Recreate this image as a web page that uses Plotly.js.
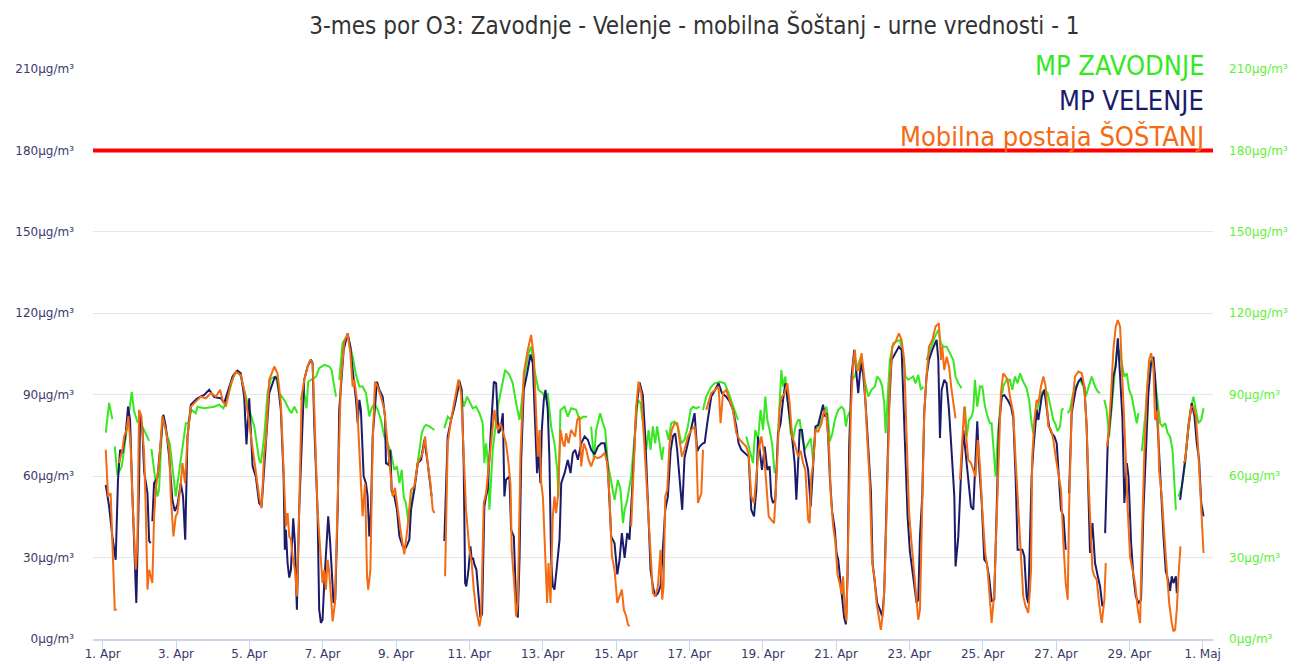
<!DOCTYPE html>
<html>
<head>
<meta charset="utf-8">
<script src="https://cdn.plot.ly/plotly-3.0.1.min.js"></script>
<style>html,body{margin:0;padding:0;background:#fff;}#chart{width:1298px;height:664px;}</style>
</head>
<body>
<div id="chart"></div>
<script>
// ---- DATA (hours since 1. Apr 00:00, value in µg/m³; null = no data) ----
const chartTitle = "3-mes por O3: Zavodnje - Velenje - mobilna Šoštanj - urne vrednosti - 1";
const seriesNames = ["MP ZAVODNJE", "MP VELENJE", "Mobilna postaja ŠOŠTANJ"];
const limitValue = 180;
const yTickValues = [0, 30, 60, 90, 120, 150, 180, 210];
const yTickUnit = "µg/m³";
const xTickHours = [0, 48, 96, 144, 192, 240, 288, 336, 384, 432, 480, 528, 576, 624, 672, 720];
const xTickLabels = ["1. Apr","3. Apr","5. Apr","7. Apr","9. Apr","11. Apr","13. Apr","15. Apr","17. Apr","19. Apr","21. Apr","23. Apr","25. Apr","27. Apr","29. Apr","1. Maj"];

const zavodnje = [[2,76],[4.2,87],[6.3,81],[7,null],[7.9,71],[9.6,60.5],[12.5,63.6],[19,91],[20.5,84],[22.7,80],[25,79.5],[30.4,73],[31.1,null],[31.9,70],[35.8,52.5],[36.9,55],[39.1,82],[42.4,74.6],[43.9,72],[47.8,52.5],[54.4,79.5],[55.9,79.5],[58.1,84.4],[60.9,83.2],[62,85.6],[66.4,85],[72.9,85.6],[76.2,86.3],[79,85],[81.7,88.7],[86.1,97.9],[88.2,98.5],[90.4,96.7],[95.9,84.4],[99.2,78.3],[102.4,66],[103.5,64.8],[105.7,74.6],[107.9,90.6],[110.1,96],[113.3,96.7],[115.5,90.6],[118.8,88.1],[122.1,84.4],[123.6,83.2],[125.4,85.6],[127.5,83.2],[128.6,null],[129.7,88.1],[131.5,91.8],[132.3,89.3],[133.4,85],[134.5,94.8],[137.4,96],[139.6,96.7],[141.7,99.8],[145,101],[148.3,100.4],[149.8,99.1],[152.7,89.3],[153.8,null],[154.8,95.5],[157,109],[160.3,112],[163.6,104],[165.8,97.3],[168,93],[170.1,93],[172.3,90.6],[174.5,82],[175.6,84.4],[177.8,86.9],[180,84.4],[182.1,80.7],[184.3,74.6],[186.5,72.1],[188.7,68.5],[190.9,62.3],[192.6,63.6],[194.2,57.4],[195.7,62.3],[197,52.5],[198.5,50],[200.1,42.7],[201.8,50],[204,56.2],[206.2,64.8],[208.8,75.8],[210.5,78.3],[211.6,78.9],[213.8,78.3],[217.1,77],[220,null],[223.6,77.7],[225.8,81.9],[228,80.7],[230.6,86.9],[233.5,95.5],[236.3,85.6],[238.5,89.3],[240,87.5],[242.2,85],[244.4,85.6],[246.6,83.2],[248.7,79.5],[249.8,64.8],[250.9,72.1],[252,66],[253.1,47.6],[255.3,69.7],[258.6,85.6],[260.8,91.8],[263.4,99.1],[266.2,97.3],[268.4,94.2],[270.6,86.9],[272.8,80.7],[273.9,85.6],[276,96.7],[278.7,105.3],[280.4,107.7],[282.6,99.1],[285.2,91.8],[288,90.6],[290.2,88.1],[291.3,90.6],[293.5,78.3],[295.7,72.1],[297.5,62.3],[298.3,52.5],[299.6,84.4],[302.3,85.6],[304.4,81.9],[306.6,85],[309.9,84.4],[312.1,80.7],[314.3,81.9],[317.1,81.9],[318.4,null],[319.7,78.3],[321.5,66],[323,77],[325.6,83.2],[327.4,79.5],[328.9,77],[330.6,64.8],[332.8,58.6],[335,51.3],[337.2,58.6],[338.9,55],[340.5,42.7],[341.6,47.6],[343.3,51.3],[345.9,59.9],[348.1,74.6],[350.3,88],[352,86.9],[353.5,79.5],[354.6,74.6],[355.7,69.7],[357.3,77],[358.6,69.7],[360.1,78.3],[361.6,72.1],[362.9,78.3],[364.5,72.1],[366,66],[367.1,70.9],[368,null],[368.8,77],[370.4,73.4],[372.1,79.5],[374.3,80.1],[376.5,78.3],[378.7,72.1],[380.8,73.4],[383,78.3],[384.8,84.4],[386.3,85.6],[388.5,85],[390.7,85.6],[391.8,null],[392.9,84.4],[395,89.3],[398.3,93],[400.5,94.2],[403.8,94.8],[407.1,94.2],[409.7,90.6],[411.9,86.9],[414,83.2],[415.8,80.7],[418.5,null],[421.2,74.6],[423.4,69.7],[425.6,64.8],[427.1,77],[428.9,73.4],[430.6,84.4],[432.2,77],[433.7,89.3],[435,80.7],[436.5,77],[438.1,72.1],[439.8,61.1],[441,null],[442,75.8],[443.1,89.3],[444.2,99.1],[445.3,93],[446.8,96.7],[448.5,86.9],[450.3,75.8],[451.8,73.4],[453.4,78.3],[455.1,80.7],[456.2,80.7],[457.7,74.6],[459.5,69.7],[461.7,72.1],[463.4,73.9],[465,66],[466.5,77],[468.3,78.3],[470.5,80.7],[472.6,84.4],[473.7,85.6],[474.8,80.7],[475.9,72.9],[477.4,75.3],[479.2,80.7],[481.4,84.4],[483.6,85.6],[485.3,84.4],[486.4,78.3],[487.5,81.9],[489,83.8],[489.5,null],[490.1,95.5],[492.3,96.7],[494,100.4],[496.2,104],[497.8,97.9],[499.3,94.2],[501,89.3],[503.2,91.8],[505.4,93],[506.9,96.7],[508.7,95.5],[510.2,93],[511.5,86.9],[512.4,75.8],[513.7,86.9],[515.2,102.8],[517.4,109],[519.6,109.6],[521.8,110.2],[524,104],[525.5,96.7],[527.2,95.5],[529,96],[530.5,96.7],[532,94.2],[533.8,97.3],[535.5,91.8],[537.1,93],[538,null],[539.2,102.8],[542.1,107.7],[544.7,111.4],[546.9,113.9],[548.6,109],[550.2,107.7],[552.4,107.7],[554.5,105.3],[556.7,102.8],[558.2,96.7],[560,94.2],[562.2,92.4],[563.3,null],[564.4,85.6],[565.5,74.6],[567,80.7],[568.7,81.9],[569.8,84.4],[570.9,95.5],[572.4,85.6],[574.2,93],[575.7,93],[577.5,85.6],[579.2,81.9],[580.7,79.5],[581.8,79.5],[582.9,72.1],[584.4,59.9],[585.7,73.4],[587.3,84.4],[589.4,93],[591.6,95.5],[593.8,95.5],[595.3,91.8],[597.1,96.7],[598.8,94.2],[600.4,97.9],[602.5,94.8],[604.7,92.4],[606.3,88.1],[608,79.5],[609.1,75.8],[610.6,80.7],[612.4,86.9],[614.6,90.6],[616.7,91.8],[618.5,90.6],[620,86.9],[621.1,84.4],[622.2,80.7],[623.3,79.5],[625,76.6],[626.6,78.3],[627.7,84.4],[628.8,85],[630,null],[631.6,83.2],[633.1,84.4],[634.7,89.3],[636.8,93],[639.7,95.5],[641.9,93],[643.4,89.3],[645.1,93],[647.3,96.7],[649.5,93],[651.3,91.2],[652.8,90.6],[654,null],[655.6,88.1],[657.1,84.4],[658.7,74.6],[660.4,86.9],[662.2,96.7],[663.7,105.3],[665.2,106.5],[667,101.6],[668.7,96.7],[670.3,97.9],[671.8,91.8],[673.5,89.3],[675.3,84.4],[676.8,79.5],[677.9,83.2],[679,null],[680.1,69.2],[682.3,82],[684.4,97.9],[686.2,102.8],[687.7,100.4],[689.3,93],[691,85.6],[692.1,79.5],[693.6,78.3],[695.4,79.5],[697.1,75.8],[698.6,74.6],[700.2,69.7],[701.5,58.7],[702.4,47.6],[703.2,null],[704.1,52.5],[706.3,56.2],[708.5,64.8],[710.7,79.5],[712.4,85.6],[713.9,89.3],[715.5,84.4],[717.2,79.5],[719,80.7],[720.5,85]];

const velenje = [[2,56.8],[4.2,48.8],[6.3,37.8],[8.5,29.2],[10,58.7],[11.4,69.7],[12.9,68.5],[15.1,75.8],[16.6,85.6],[17.9,80.7],[19.4,53.7],[20.5,35.3],[22,13.3],[23.8,57.4],[24.5,83.2],[26,77],[27.1,61.8],[29.3,53.7],[30.4,36.1],[31.4,35.3],[32,null],[32.5,43.4],[33.6,57.4],[35.8,59.4],[38,71.7],[39.7,82.6],[41.3,78.3],[43.5,67.2],[45.6,51.3],[47.2,47.1],[49,49.6],[51.1,57.4],[52.6,52.5],[54,36.6],[55.5,74.6],[57.7,86.3],[59.8,87.5],[62,88.7],[66.4,89.9],[69.7,91.8],[73,89.1],[77.3,88.7],[79.5,86.9],[82.8,93],[85,96.7],[88.2,98.9],[90.4,97.9],[92.6,89.3],[94.1,71.7],[95.9,88.7],[98.1,63.6],[100.2,59.9],[102.4,50.1],[104,48.8],[106.8,71.7],[109,90.6],[112.7,96.7],[114.4,95.5],[116.6,84.4],[118.4,59.9],[119.2,32.9],[119.9,40.2],[121,28],[122.1,22.6],[123.2,25.5],[124.7,44.5],[125.8,35.3],[127.1,10.8],[128.6,47.6],[130.8,84.4],[131.9,95.5],[134.1,100.4],[136.3,102.9],[137.4,101.6],[138.5,78.3],[140.6,47.6],[141.7,10.8],[142.8,5.9],[143.9,7.1],[145,20.6],[146.8,41.5],[147.6,45.2],[148.9,35.3],[150,26.3],[151.1,13.3],[152.2,14.5],[153.8,47.6],[154.8,84.4],[155.9,94.2],[157.7,106.5],[160.3,112.6],[162.1,107.7],[163.6,99.1],[165.8,88.1],[166.9,79.5],[168,88.1],[169,84.4],[170.8,59.9],[172.3,57.4],[173.4,52.5],[174.5,37.8],[175.6,47.6],[176.7,74.6],[178.2,85.6],[179.5,94.8],[181.1,91.8],[183.2,89.3],[184.8,81.9],[185.4,64.8],[187,64.2],[188.3,69.7],[189.1,54.5],[190.9,52.5],[192.6,47.6],[194.2,37.8],[196.3,34.2],[198.5,33.7],[200.7,36.6],[201.8,47.6],[204,55],[206.2,64.8],[208.4,66],[210.5,73.4],[212.7,64.8],[214.5,57.4],[215.3,52.5],[218,null],[223.6,36.1],[225.8,74.6],[228,80.7],[230.2,85.6],[233.5,94.8],[235,91.8],[236.3,63.6],[237.2,20.6],[238,19.4],[239.4,25.5],[240.7,34.1],[241.5,29.2],[242.4,29.9],[243.3,27.5],[244.6,25.5],[245.9,15.2],[247.2,7.9],[248.3,9.1],[249.8,48.8],[250.9,52.5],[252,55],[254.2,78.3],[256,94.8],[257.5,94.2],[259,75.8],[260.3,77],[261.9,83.2],[262.9,52.5],[264,58.7],[266.2,59.9],[267.3,40.2],[269.1,37.8],[270.6,12.8],[271.7,7.9],[272.8,29.2],[273.9,66],[275.6,91.8],[277.8,97.9],[280,104.8],[281.5,101.6],[283,78.3],[284.3,61.1],[285.2,69.7],[286.5,57.4],[287.4,77],[288.7,88.1],[289.8,91.8],[291.3,84.4],[292.4,66],[293.5,29.2],[294.6,19.4],[295.7,18.2],[297.5,28],[299,36.6],[300.1,57.4],[302.3,61.1],[304.4,66],[306.2,61.1],[307.7,68.5],[309.2,69.7],[311,66],[313.2,72.1],[315.4,74.6],[317.5,73.4],[319.7,69.7],[321.9,68],[324.1,70.9],[326.3,72.1],[328.5,72.1],[330.6,63.6],[332.8,37.8],[335,35.3],[336.8,23.8],[338.3,29.2],[339.8,39],[341.6,29.9],[343.3,39],[344.8,36.6],[347,59.9],[349.2,84.4],[351.4,94.5],[353.5,89.9],[355.1,74.6],[356.8,52.5],[358.6,25.5],[360.1,19.4],[361.6,15.7],[363.4,16.9],[365.1,19.4],[366.6,32.9],[368.2,47.6],[369.9,52.5],[371.7,69.2],[373.2,74.6],[374.7,75.8],[376,69.7],[377.6,57.4],[379.3,47.6],[380.8,66.7],[383,72.1],[385.2,78.3],[387.4,83.2],[389.1,69.2],[390.7,70.9],[392.9,72.1],[394,72.3],[395.7,79.5],[398.3,89.3],[400.9,91.8],[403.1,94.2],[405.3,90.6],[408.1,89.3],[410.3,87.5],[412.5,84.4],[414.7,78.3],[416.2,72.1],[418,69.7],[420.2,68.6],[422.8,67.2],[424.5,47.6],[426.3,45.2],[427.8,55],[428.9,74.6],[430,69.7],[431.5,62.3],[433.3,70.9],[435,62.3],[436.5,63.6],[437.6,52.5],[438.7,50.1],[440.2,51.3],[442,75.8],[443.7,79.5],[445.3,88.1],[446.8,94.2],[448.5,86.9],[450.7,77],[452.9,64.8],[454,51.3],[456.2,77],[457.7,77],[459.5,68],[461.7,62.3],[463.4,48.8],[465,62.3],[466.5,78.3],[468.3,78.9],[470,83.2],[471.5,86.3],[472.6,82],[473.7,83.2],[474.8,74.6],[475.9,59.9],[477.4,47.1],[479.2,40.2],[480.3,31.7],[481.4,29.2],[482.5,23.1],[484,13.3],[485.3,7.9],[486.4,5.4],[487.5,23.1],[488.6,71.7],[490.1,96.7],[491.9,106.5],[493.4,96.7],[494.5,90.6],[496.2,101.6],[497.8,97.4],[499.3,86.9],[501,69.2],[502.8,54.5],[503.9,28],[505.4,19.4],[506.9,13.3],[508.7,10.8],[510.2,8.3],[511.5,16.9],[513.1,47.6],[514.6,84.4],[516.3,102.8],[518.9,105.3],[521.1,107.7],[522.9,106.5],[525.1,71.7],[526.8,45.2],[528.3,32.4],[530.5,22.6],[532.7,13.3],[533.8,14.5],[534.9,37.8],[536.4,52.5],[537.7,83.2],[539.2,96.7],[540.8,102.8],[543,106.5],[545.8,110.2],[546.9,102.8],[548,74.1],[549.1,91.8],[550.8,95.5],[552.3,94.2],[553.9,84.4],[555.6,69.2],[557.4,52.5],[558.2,26.7],[560,37.8],[561.7,59.9],[563.3,77],[564.8,68.5],[566.5,59.9],[568.3,48.8],[569.8,47.6],[570.9,59.9],[572.4,80.2],[573.8,62.3],[575.3,50.8],[577,29.2],[578.6,28],[580.1,23.1],[581.8,14],[583.5,14.5],[585.1,50.1],[586.6,78.3],[588.4,89.3],[590.1,89.9],[592.3,88.1],[594.5,85.6],[596,81.5],[597.5,59.9],[598.8,32.9],[600.4,32.9],[601.9,32.9],[603.2,30.4],[604.7,15.7],[605.8,13.3],[606.9,35.3],[608,59.9],[609.1,69.7],[610.2,78.3],[611.3,84.4],[612.4,80.7],[613.5,84.4],[614.6,89.3],[616.3,91.8],[617.8,85.6],[619.4,78.3],[621.1,75.8],[622.9,74.6],[624.4,72.1],[625.9,59.9],[627.2,47.6],[628.8,45.2],[630.3,32.9],[631.4,null],[632.5,53.7],[634.2,83.2],[636.8,91.8],[638.6,94.8],[640.3,96],[642.5,93],[644,78.3],[645.1,52.5],[646.2,31.7],[647.8,42.7],[649.5,28],[651.3,23.1],[652.8,19.4],[654.3,12],[655.2,null],[656.1,39],[657.8,72.1],[660,84.4],[661.5,96.7],[663,100.4],[664.4,110.8],[665.9,96.7],[667.4,81.5],[668.7,50.1],[670.3,64.8],[671.4,59.9],[673.1,35.3],[674.6,23.1],[676.2,15.7],[677.9,13.3],[679.6,14.5],[681.2,47.6],[682.7,69.7],[684.4,90.6],[686.2,101.6],[687.7,104],[688.8,96.7],[689.9,84.4],[691,69.7],[692.7,51.3],[694.3,37.8],[695.8,25],[697.5,21.3],[698.6,17.7],[699.7,23.1],[700.8,20.6],[702.4,23.1],[703,16.9],[704,null],[705.2,51.3],[706.7,57.4],[708.5,66],[710.7,78.3],[712.8,86.9],[714.6,82],[716.1,72.1],[717.6,66],[719,50.1],[720.5,45.2]];

const sostanj = [[2,69.7],[3.5,52.5],[5.2,53.7],[6.8,28],[7.9,10.8],[9.2,10.8],[10,null],[10.7,64.8],[12.9,69.7],[14,74.6],[15.7,77],[16.8,82],[18.3,70.9],[19.4,52.5],[21.6,25.5],[22.7,35.3],[23.8,84.4],[25.3,82],[27.1,68.5],[28.2,47.6],[29.3,18.2],[30.4,25.5],[31.5,23.1],[32.5,20.6],[33.6,44.7],[34.7,55],[36.9,64.8],[39.1,82],[41.3,77],[43.5,69.7],[44.6,52.5],[46.3,37.8],[47.8,45.2],[48.9,46.4],[51.1,57.4],[52.2,64.8],[53.9,57.4],[55.5,74.6],[57.7,85.6],[62,88.1],[64.2,89.3],[67.5,88.7],[70.8,90.6],[74,89.3],[76.9,91.8],[78.4,88.1],[80.6,85.6],[83.9,94.2],[87.1,98.5],[90.4,97.3],[93,90.6],[95.9,79.5],[98.1,69.7],[100.2,62.3],[102.4,52.5],[104,48.2],[105.7,68.5],[106.8,73.4],[109,95.5],[112.3,100.4],[114.4,97.9],[116.6,86.9],[118.4,62.3],[119.9,41.5],[121,46.4],[122.1,37.8],[123.2,36.6],[124.3,30.4],[125.8,25.5],[127.1,15.7],[128.6,47.6],[130.2,89.3],[131.9,95.5],[134.1,100.4],[135.8,102.8],[137.4,101.6],[138.5,84.4],[140.6,47.6],[142.8,29.2],[143.9,20.6],[145,25.5],[146.1,18.2],[147.2,29.2],[148.3,24.3],[149.4,15.7],[150.5,6.5],[152,13.3],[153.8,47.6],[154.8,69.2],[155.9,95.5],[158.1,109.6],[160.3,112.6],[162.1,105.3],[163.6,93],[164.7,95.5],[166.4,88.1],[168,69.2],[169.5,47.6],[170.1,45.2],[171.7,57.4],[173,23.1],[173.8,18.2],[175.2,25.5],[176.7,72.1],[178.2,94.8],[180,93],[182.1,89.3],[184.3,84.4],[186.5,72.1],[188.3,59.9],[189.8,52.5],[191.3,55.7],[193.1,47.6],[195.2,39],[197.4,31.2],[199.6,41.5],[201.8,55],[204,56.2],[206.2,64.8],[209.4,68.5],[211,74.6],[212.7,64.8],[214.5,57.4],[216,47.6],[217.1,46.4],[220,null],[224.1,23.1],[225.8,72.1],[228,80.7],[230.6,88.1],[232.8,95.5],[234.6,90.6],[236.3,63.6],[237.8,47.6],[240,32.9],[241.5,28],[242.9,18.2],[244.4,10.8],[246.6,4.7],[247.7,8.3],[249.4,50.1],[250.9,53.7],[253.1,66],[254.6,74.6],[256.4,84.4],[257.5,79.5],[258.6,77],[260.3,79.5],[261.9,75.8],[264,72.1],[265.6,64.8],[266.9,56.9],[267.7,32.9],[269.1,23.1],[269.9,15.7],[270.6,8.3],[271.7,13.3],[273.4,67.2],[275.6,97.9],[278.2,106.5],[280.4,112],[282.2,104],[283.7,80.7],[284.8,67.2],[285.9,77],[287,57.4],[288.1,52.5],[289.6,32.9],[290.9,13.3],[291.8,28],[293.1,13.3],[294.6,45.2],[295.7,52.5],[296.8,46.4],[297.9,52.5],[299.6,77],[301.2,72.1],[302.3,70.9],[303.3,75.8],[304.9,72.1],[306.6,77],[309.2,74.6],[310.6,80.7],[312.1,82],[313.2,63.6],[314.9,72.1],[316.5,69.7],[318,66],[319.7,63.6],[321.9,67.2],[324.1,66.6],[326.3,67.2],[328.5,68.6],[330.2,64.8],[331.7,52.5],[333.3,30.4],[335,25.5],[336.8,13.3],[338.3,15.7],[339.8,18.2],[341.1,10.8],[342.7,8.3],[343.8,5.3],[344.8,4.7],[345.3,null],[345.9,41.5],[347.6,66],[349.2,85.6],[350.7,94.8],[352.5,90.6],[354.2,74.6],[355.7,59.9],[357.3,47.6],[358.6,30.4],[360.1,16.9],[361.6,15.7],[363.4,19.4],[365.1,32.9],[366.2,14.5],[367.1,19.4],[368.2,52.5],[369.5,55],[371,72.1],[372.5,77],[374.3,79.5],[376,79.5],[377.6,72.1],[379.1,67.2],[380.8,69.7],[383,74.6],[385.2,77],[387.4,78.3],[388.5,72.1],[389.6,50.1],[391.8,53.7],[392.9,69.7],[394,null],[395,84.4],[398.3,90.6],[400.9,91.8],[403.1,93],[404.4,79.5],[406,90.6],[408.1,91.8],[410.3,88.1],[412.5,84.4],[414.7,75.8],[416.9,73.4],[419.1,72.1],[421.2,70.9],[422.8,68],[424.5,52.5],[426.3,50.1],[427.8,59.9],[429.3,69.7],[431.1,74.6],[432.8,68.5],[434.3,57.4],[435.9,45.2],[437.6,43.9],[439.4,42.7],[440.2,50.1],[441.6,69.7],[443.1,85.6],[444.6,89.3],[446.4,90.6],[448.1,94.2],[449.6,86.9],[451.2,74.6],[452.9,72.1],[455.1,67.2],[456.8,69.4],[458.4,64.8],[459.9,62.3],[461.7,43.9],[462.7,42.7],[463.8,59.9],[465,64.8],[466.5,77],[468.3,76.4],[470.5,79.5],[472.2,84.4],[473.7,82],[475.3,72.1],[476.6,52.5],[478.1,41.5],[479.6,35.3],[480.9,23.8],[482.5,20.1],[483.6,16.4],[484.6,23.1],[485.7,10.8],[486.8,6.6],[487.9,35.3],[489.7,84.4],[491.2,101.6],[492.3,106.5],[493.4,99.1],[494.9,99.1],[496.7,105.3],[498.4,96.7],[499.9,79],[502.1,56.9],[503.6,28],[505,23.1],[506.5,13.3],[508,8.3],[509.3,3.4],[510.9,10.8],[511.9,23.1],[513.7,59.9],[515.2,94.2],[516.8,107.7],[519,109.6],[521.1,112.6],[522.9,110.2],[524.6,102.8],[526.1,71.7],[527.7,47.1],[529.4,35.3],[531.2,23.1],[532.7,13.3],[533.8,7.1],[534.9,10.8],[536,35.3],[537.7,83.2],[539.2,96.7],[540.8,107.7],[543,110.2],[545.1,115.1],[547.3,116.3],[548.6,102.8],[549.5,107.7],[550.8,99.1],[552.4,104],[553.9,100.4],[555.6,91.8],[557.4,84.4],[558.2,81.3],[559.5,null],[561.1,58.7],[562.6,74.6],[563.9,85.6],[565.5,72.1],[566.5,66],[568.3,64.8],[569.8,62.3],[571.3,59.9],[572.7,73.4],[574.2,63.6],[575.7,47.6],[577.5,32.4],[579.2,25.5],[580.7,12.8],[581.8,5.9],[583.5,16.9],[585.1,47.6],[586.6,69.2],[587.9,90.6],[589.4,97.9],[591,96.7],[592.3,95.5],[593.8,89.3],[596,83.2],[597.5,66],[599.3,47.6],[601,28],[602.5,15.7],[604.1,12],[605.8,9.6],[606.9,18.2],[607.6,25.5],[608.4,67.2],[609.8,80.7],[611.3,88.1],[612.4,86.9],[614.1,93],[615.7,96.7],[617.2,93],[618.9,78.3],[620.7,77],[622.2,73.4],[623.7,67.2],[625.5,59.9],[627.2,55],[628.8,35.3],[630.3,20.6],[631.6,14.5],[632.5,47.6],[634.2,84.4],[636.4,96.7],[638.6,98.5],[640.8,97.9],[642.5,93],[644,78.3],[645.1,59.9],[646.2,45.2],[647.8,25.5],[649.1,23.1],[650.6,21.8],[652.1,13.3],[653.9,5.9],[655.6,14.5],[656.5,28],[656.9,null],[657.2,70.9],[658.2,74.6],[660,90.6],[661.5,106.5],[663,115.1],[664.4,117.5],[665.9,115.1],[667.4,96.7],[669.2,72.1],[670.9,47.6],[672.4,30.4],[674,25.5],[675.7,20.6],[677.5,10.8],[679,5.9],[680.1,35.3],[681.8,69.2],[683.4,90.6],[684.9,102.8],[686.2,105.3],[687.7,100.4],[688.8,80.7],[690.6,84.4],[691.4,62.3],[693.2,52.5],[694.9,37.8],[696.5,23.1],[698,13.3],[699.7,5.9],[700.8,2.8],[701.9,3.4],[703,10.8],[704.1,23.1],[705.4,34.1],[706.4,null],[707.4,64.8],[708.5,66],[710.7,78.3],[712.4,85.6],[713.9,85.6],[715.5,82],[716.8,72.1],[718.3,57.4],[719.4,43.9],[720.5,31.7]];

// ---- STYLE ----
const colors = ["#35e81f", "#1b1b6b", "#f36b12"];
const axisLabelColor = "#3a3a6a";
const rightLabelColor = "#5ff03a";
const narrowFont = "'Liberation Sans Narrow', 'Arial Narrow', 'DejaVu Sans Condensed', sans-serif";
const tickFont = "'DejaVu Sans', Verdana, sans-serif";

const seriesData = [zavodnje, velenje, sostanj];
const traces = seriesData.map((s, i) => ({
  type: 'scatter', mode: 'lines', name: seriesNames[i],
  x: s.map(p => p[0]), y: s.map(p => p[1]),
  line: {color: colors[i], width: 2}, connectgaps: false,
  hoverinfo: 'x+y+name', showlegend: false
}));
// right-side axis carrier (invisible copy of first series)
traces.push({
  type: 'scatter', mode: 'lines', x: zavodnje.map(p => p[0]), y: zavodnje.map(p => p[1]),
  yaxis: 'y2', line: {color: 'rgba(0,0,0,0)', width: 0}, hoverinfo: 'skip', showlegend: false
});

const yTickText = yTickValues.map(v => v + yTickUnit);

const legendY = [1.006, 0.944, 0.881];
const annotations = seriesNames.map((n, i) => ({
  text: n, xref: 'paper', yref: 'paper', x: 0.994, y: legendY[i],
  xanchor: 'right', yanchor: 'middle', showarrow: false,
  font: {family: narrowFont, size: 27, color: colors[i]}
}));

const layout = {
  width: 1298, height: 664,
  margin: {l: 93, r: 85, t: 69, b: 25, pad: 0},
  paper_bgcolor: '#ffffff', plot_bgcolor: '#ffffff',
  title: {text: chartTitle, x: 0.535, xref: 'container', xanchor: 'center',
          y: 0.962, yref: 'container', yanchor: 'middle',
          font: {family: narrowFont, size: 24, color: '#333333'}},
  xaxis: {
    range: [-6.35, 726.7], tickmode: 'array', tickvals: xTickHours, ticktext: xTickLabels,
    ticks: 'outside', ticklen: 10, tickcolor: '#ccd6eb', tickwidth: 1, ticklabelstandoff: -7,
    showline: true, linecolor: '#ccd6eb', linewidth: 2, showgrid: false, zeroline: false,
    tickfont: {family: tickFont, size: 12, color: axisLabelColor}, fixedrange: true
  },
  yaxis: {
    range: [0, 210], tickmode: 'array', tickvals: yTickValues, ticktext: yTickText,
    showgrid: true, gridcolor: '#e6e6e6', gridwidth: 1, zeroline: false, showline: false,
    ticks: '', ticklabelstandoff: 18,
    tickfont: {family: tickFont, size: 12, color: axisLabelColor}, fixedrange: true
  },
  yaxis2: {
    overlaying: 'y', side: 'right', range: [0, 210], tickmode: 'array',
    tickvals: yTickValues, ticktext: yTickText, showgrid: false, zeroline: false,
    showline: false, ticks: '', ticklabelstandoff: 15,
    tickfont: {family: tickFont, size: 12, color: rightLabelColor}, fixedrange: true
  },
  shapes: [{type: 'line', xref: 'paper', x0: 0, x1: 1, yref: 'y', y0: limitValue, y1: limitValue,
            line: {color: '#ff0000', width: 4}, layer: 'above'}],
  annotations: annotations,
  showlegend: false
};

Plotly.newPlot('chart', traces, layout, {displayModeBar: false, staticPlot: true});
</script>
</body>
</html>
